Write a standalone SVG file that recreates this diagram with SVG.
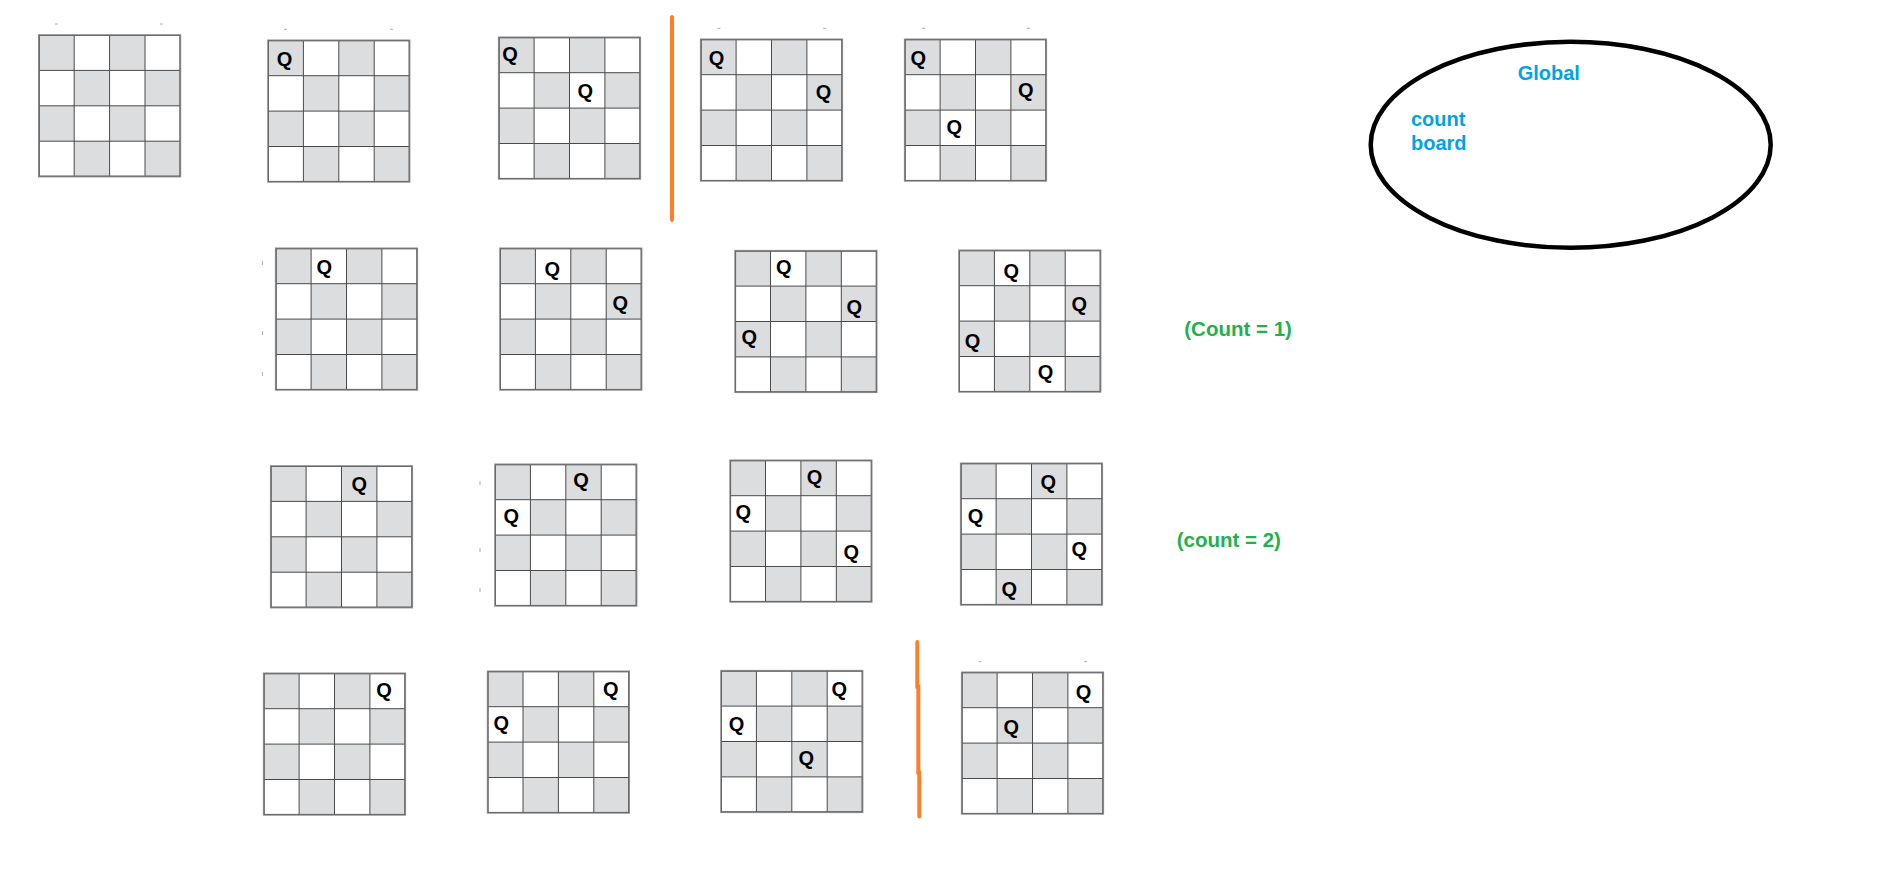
<svg xmlns="http://www.w3.org/2000/svg" xmlns:xlink="http://www.w3.org/1999/xlink" width="1895" height="869" viewBox="0 0 1895 869">
<style>
.cell{fill:#dcdddf}
.grid{stroke:#4a4a4a;stroke-width:1;fill:none}
.frame{stroke:#8c8c8c;stroke-width:1.6;fill:none}
.q{font-family:"Liberation Sans",Arial,sans-serif;font-weight:bold;font-size:20px;fill:#000;text-anchor:middle}
.sep{stroke:#ff7f27;stroke-width:4;stroke-linecap:round;fill:none}
.tick{stroke:#b0b0b0;stroke-width:1}
.blue{font-family:"Liberation Sans",Arial,sans-serif;font-weight:bold;font-size:20px;fill:#00a2e8}
.green{font-family:"Liberation Sans",Arial,sans-serif;font-weight:bold;font-size:20.5px;fill:#22b14c}
</style>
<defs>
<g id="board">
<rect x="0" y="0" width="141.6" height="141.6" fill="#fff"/>
<rect class="cell" x="0" y="0" width="35.4" height="35.4"/>
<rect class="cell" x="70.8" y="0" width="35.4" height="35.4"/>
<rect class="cell" x="35.4" y="35.4" width="35.4" height="35.4"/>
<rect class="cell" x="106.2" y="35.4" width="35.4" height="35.4"/>
<rect class="cell" x="0" y="70.8" width="35.4" height="35.4"/>
<rect class="cell" x="70.8" y="70.8" width="35.4" height="35.4"/>
<rect class="cell" x="35.4" y="106.2" width="35.4" height="35.4"/>
<rect class="cell" x="106.2" y="106.2" width="35.4" height="35.4"/>
<path class="grid" d="M35.4 0V141.6M70.8 0V141.6M106.2 0V141.6M0 35.4H141.6M0 70.8H141.6M0 106.2H141.6"/>
<rect class="frame" x="0" y="0" width="141.6" height="141.6"/>
<rect x="0.6" y="0.6" width="140.4" height="140.4" fill="none" stroke="#5a5a5a" stroke-width="0.8"/>
</g>
</defs>
<rect width="1895" height="869" fill="#fff"/>

<g id="ticks">
<path class="tick" d="M55 24h3M160 24h3M284 29.3h3M390 29.3h3M717.5 28.3h3M823 28.3h3M922 28.3h3M1027 28.3h3M978.5 661.7h3M1084 661.7h3"/>
<path class="tick" d="M262.4 261v4M262.4 331v4M262.4 372v4M480 481v4M480 548v4M480 588v4"/>
</g>

<g id="separators">
<line class="sep" x1="672" y1="17" x2="672" y2="220"/>
<polyline class="sep" points="917.3,642 917.3,686.5 918.3,686.5 918.3,772.5 919.3,772.5 919.3,816.5"/>
</g>

<g id="connectors"></g>

<g id="board-A"><use xlink:href="#board" href="#board" x="38.8" y="35"/></g>
<g id="board-B"><use xlink:href="#board" href="#board" x="268" y="40.3"/>
<text class="q" x="284.6" y="66">Q</text></g>
<g id="board-C"><use xlink:href="#board" href="#board" x="498.7" y="37.3"/>
<text class="q" x="510" y="61.3">Q</text><text class="q" x="585.3" y="98">Q</text></g>
<g id="board-D"><use xlink:href="#board" href="#board" x="700.7" y="39.3"/>
<text class="q" x="716.5" y="65.1">Q</text><text class="q" x="823.5" y="99.3">Q</text></g>
<g id="board-E"><use xlink:href="#board" href="#board" x="904.7" y="39.3"/>
<text class="q" x="918.3" y="64.8">Q</text><text class="q" x="1025.8" y="97">Q</text><text class="q" x="954.2" y="134.3">Q</text></g>

<g id="board-F"><use xlink:href="#board" href="#board" x="275.7" y="248.3"/>
<text class="q" x="324.4" y="273.5">Q</text></g>
<g id="board-G"><use xlink:href="#board" href="#board" x="500" y="248.3"/>
<text class="q" x="552.4" y="276">Q</text><text class="q" x="620.4" y="310.1">Q</text></g>
<g id="board-H"><use xlink:href="#board" href="#board" x="735.1" y="250.7"/>
<text class="q" x="783.8" y="274.3">Q</text><text class="q" x="854.3" y="313.8">Q</text><text class="q" x="749.3" y="344.3">Q</text></g>
<g id="board-I"><use xlink:href="#board" href="#board" x="959" y="250.3"/>
<text class="q" x="1011.3" y="277.6">Q</text><text class="q" x="1079.2" y="311">Q</text><text class="q" x="972.5" y="348.3">Q</text><text class="q" x="1045.5" y="379">Q</text></g>

<g id="board-J"><use xlink:href="#board" href="#board" x="270.7" y="466"/>
<text class="q" x="359.2" y="490.5">Q</text></g>
<g id="board-K"><use xlink:href="#board" href="#board" x="495" y="464.3"/>
<text class="q" x="581" y="486.5">Q</text><text class="q" x="511.2" y="522.8">Q</text></g>
<g id="board-L"><use xlink:href="#board" href="#board" x="730.1" y="460.3"/>
<text class="q" x="814.5" y="483.8">Q</text><text class="q" x="743.3" y="519">Q</text><text class="q" x="851.2" y="558.5">Q</text></g>
<g id="board-M"><use xlink:href="#board" href="#board" x="960.7" y="463.3"/>
<text class="q" x="1048.2" y="489.3">Q</text><text class="q" x="975.5" y="522.6">Q</text><text class="q" x="1079.2" y="555.6">Q</text><text class="q" x="1009.2" y="595.5">Q</text></g>

<g id="board-N"><use xlink:href="#board" href="#board" x="263.7" y="673.3"/>
<text class="q" x="384.1" y="697.3">Q</text></g>
<g id="board-O"><use xlink:href="#board" href="#board" x="487.6" y="671.3"/>
<text class="q" x="610.7" y="696.3">Q</text><text class="q" x="501.4" y="730.1">Q</text></g>
<g id="board-P"><use xlink:href="#board" href="#board" x="721" y="670.7"/>
<text class="q" x="839.3" y="696.3">Q</text><text class="q" x="736.5" y="731.3">Q</text><text class="q" x="806.2" y="765.1">Q</text></g>
<g id="board-Q"><use xlink:href="#board" href="#board" x="961.7" y="672.3"/>
<text class="q" x="1083.5" y="698.8">Q</text><text class="q" x="1011.2" y="734.3">Q</text></g>

<g id="label-count1"><text class="green" x="1184.3" y="336">(Count = 1)</text></g>
<g id="label-count2"><text class="green" x="1176.7" y="547">(count = 2)</text></g>

<g id="global">
<ellipse cx="1570.7" cy="144.8" rx="200" ry="103" fill="none" stroke="#000" stroke-width="4.5"/>
<text class="blue" x="1517.7" y="80">Global</text>
<text class="blue" x="1411" y="126">count</text>
<text class="blue" x="1411" y="149.5">board</text>
</g>
</svg>
